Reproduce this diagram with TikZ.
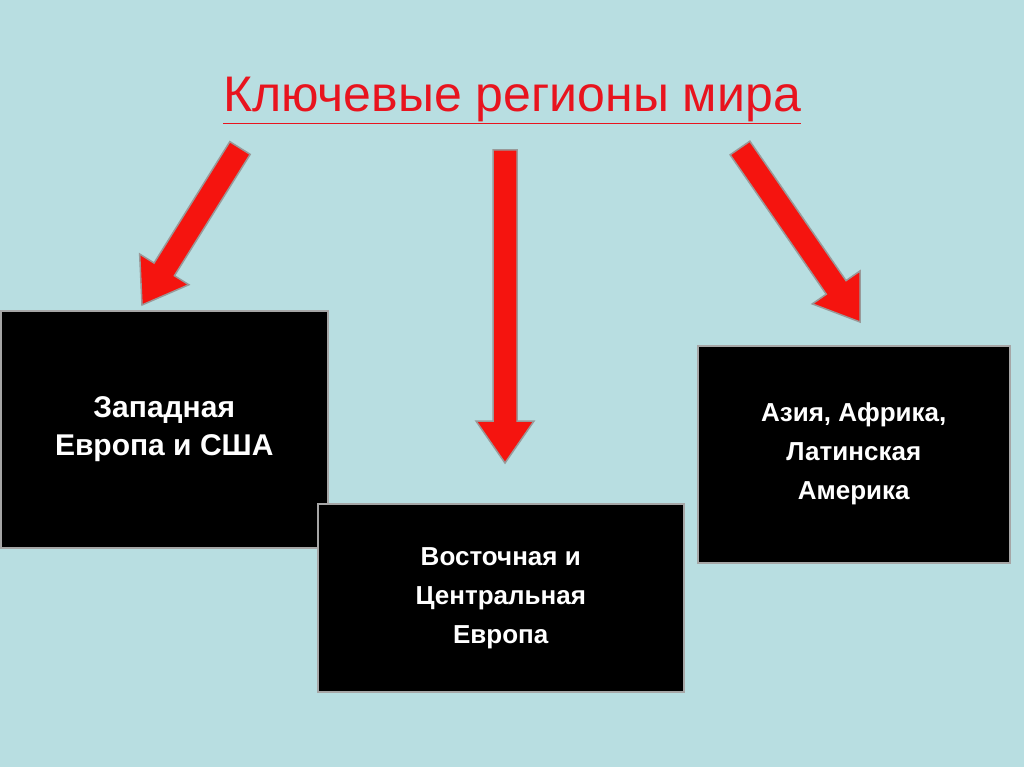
\documentclass[tikz,border=0pt]{standalone}
\usepackage{fontspec}
\setmainfont{Liberation Sans}
\definecolor{bg}{HTML}{B8DEE1}
\definecolor{ared}{HTML}{F5140F}
\definecolor{tred}{HTML}{E8141E}
\newcommand\blockarrow[4]{%
  \pgfmathsetmacro\adx{#3-#1}\pgfmathsetmacro\ady{-(#4-#2)}%
  \pgfmathsetmacro\aang{atan2(\ady,\adx)}\pgfmathsetmacro\alen{veclen(\adx,\ady)}%
  \pgfmathsetmacro\ahb{\alen-42}%
  \begin{scope}[shift={(#1,#2)},rotate=\aang]
  \draw[barrow] (0pt,-12pt) -- (\ahb pt,-12pt) -- (\ahb pt,-29pt) -- (\alen pt,0pt) -- (\ahb pt,29pt) -- (\ahb pt,12pt) -- (0pt,12pt) -- cycle;
  \end{scope}}
\tikzset{
  box/.style={draw=gray!70, line width=1.5pt, fill=black, text=white, font=\bfseries, align=center, anchor=north west, inner sep=0pt},
  barrow/.style={draw=gray!80, line width=1.5pt, fill=ared, line join=miter}
}
\begin{document}
\begin{tikzpicture}[x=1pt,y=-1pt]
\fill[bg] (0,0) rectangle (1024,767);
\useasboundingbox (0,0) rectangle (1024,767);
\node[font=\fontsize{50}{56}\selectfont, text=tred] (title) at (512,100) {\underline{Ключевые регионы мира}};
\node[box, minimum width=327pt, minimum height=237pt, font=\fontsize{30}{38}\selectfont\bfseries] (w) at (0,310) {Западная\\Европа и США};
\node[box, minimum width=366pt, minimum height=188pt, font=\fontsize{26}{39}\selectfont\bfseries] (e) at (317,503) {Восточная и\\Центральная\\Европа};
\node[box, minimum width=312pt, minimum height=217pt, font=\fontsize{26}{39}\selectfont\bfseries] (a) at (697,345) {Азия, Африка,\\Латинская\\Америка};
\coordinate (s1) at (240,148); \coordinate (t1) at (142,305);
\blockarrow{240}{148}{142}{305}
\blockarrow{505}{150}{505}{463}
\blockarrow{740}{148}{860}{322}
\end{tikzpicture}
\end{document}
